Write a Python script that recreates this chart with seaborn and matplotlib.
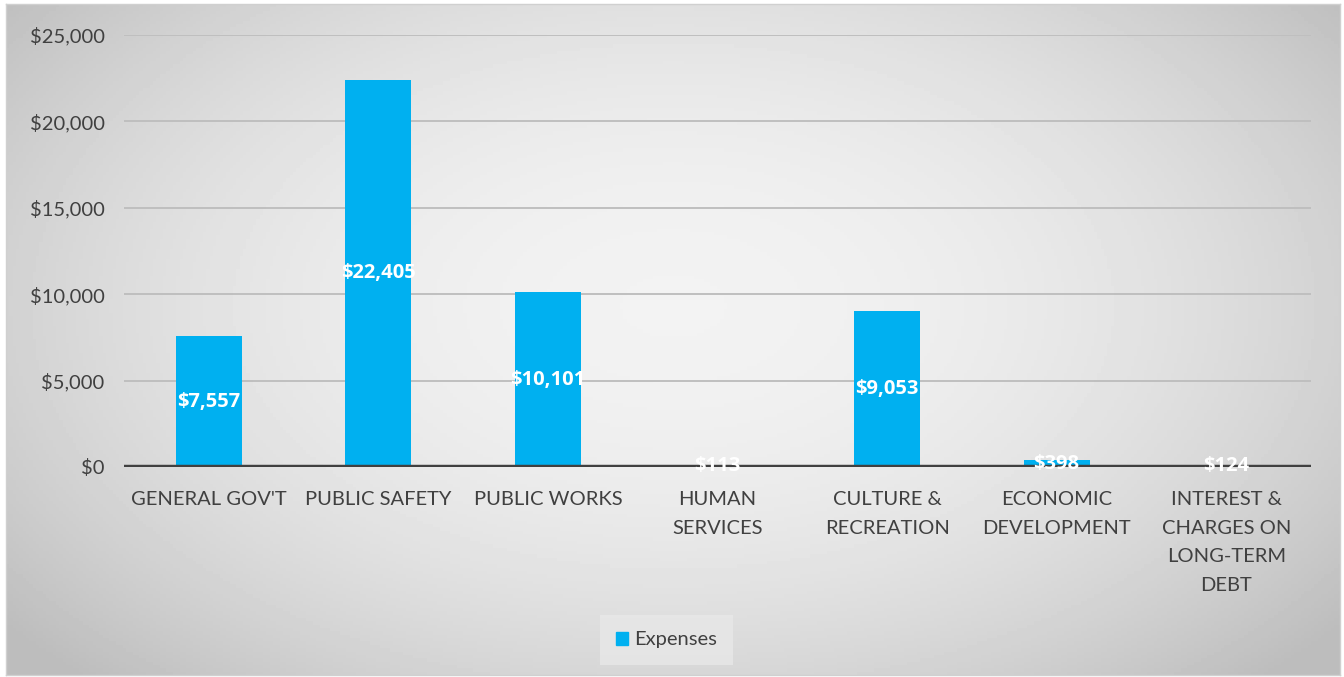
import numpy as np
import pandas as pd
import matplotlib
matplotlib.use("Agg")
import matplotlib.pyplot as plt
import seaborn as sns

categories = ["GENERAL GOV'T", "PUBLIC SAFETY", "PUBLIC WORKS", "HUMAN\nSERVICES",
              "CULTURE &\nRECREATION", "ECONOMIC\nDEVELOPMENT",
              "INTEREST &\nCHARGES ON\nLONG-TERM\nDEBT"]
expenses = [7557, 22405, 10101, 113, 9053, 398, 124]
series_name = "Expenses"
y_ticks = [0, 5000, 10000, 15000, 20000, 25000]

BAR_COLOR = "#00b0f0"
TEXT_COLOR = "#404040"

sns.set_theme(style="white")
plt.rcParams["font.family"] = ["Lato", "DejaVu Sans"]

df = pd.DataFrame({"category": categories, "value": expenses, "series": series_name})

fig = plt.figure(figsize=(13.44, 6.77), dpi=100)
fig.patch.set_facecolor("white")

# radial gray gradient behind the chart area
bg = fig.add_axes([0.0045, 0.003, 0.9926, 0.991], zorder=-10)
gx, gy = np.meshgrid(np.linspace(-1, 1, 400), np.linspace(-1, 1, 200))
r = np.sqrt((gx / 1.05) ** 2 + ((gy + 0.1) / 1.25) ** 2)
shade = np.clip(0.95 - 0.14 * r ** 2, 0.74, 0.95)
bg.imshow(shade, cmap="gray", vmin=0, vmax=1, aspect="auto", extent=[0, 1, 0, 1])
bg.set_xticks([])
bg.set_yticks([])
for sp in bg.spines.values():
    sp.set_color("#d0d0d0")
    sp.set_linewidth(1)

ax = fig.add_axes([124 / 1344, (677 - 467) / 677, 1187 / 1344, 432 / 677])
ax.patch.set_alpha(0)

sns.barplot(data=df, x="category", y="value", hue="series",
            palette={series_name: BAR_COLOR}, width=0.39, saturation=1,
            edgecolor="none", linewidth=0, ax=ax, zorder=2)

ax.set_ylim(0, 25000)
ax.set_xlim(-0.5, len(categories) - 0.5)
ax.set_yticks(y_ticks)
ax.set_yticklabels([f"${v:,.0f}" for v in y_ticks])
ax.yaxis.grid(True, color="#bfbfbf", linewidth=1.4, zorder=1)
ax.set_axisbelow(True)
ax.axhline(0, color="#404040", linewidth=3.2, zorder=3)
for sp in ax.spines.values():
    sp.set_visible(False)

ax.set_xlabel("")
ax.set_ylabel("")
ax.set_xticks(range(len(categories)))
ax.set_xticklabels(categories, linespacing=1.85, va="top")
ax.tick_params(axis="x", length=0, pad=17, labelsize=14.5, colors=TEXT_COLOR)
ax.tick_params(axis="y", length=0, pad=14, labelsize=14.5, colors=TEXT_COLOR)

for cont in ax.containers:
    labels = ax.bar_label(cont, labels=[f"${v:,.0f}" for v in expenses],
                          label_type="center", color="white",
                          fontsize=14.5, fontweight="bold",
                          family=["Open Sans", "DejaVu Sans"])
    for t in labels:
        t.set_zorder(5)

ax.get_legend().remove()
handles = [plt.Rectangle((0, 0), 1, 1, color=BAR_COLOR)]
leg = fig.legend(handles, [series_name], loc="center",
                 bbox_to_anchor=(0.496, 1 - 640 / 677), frameon=True,
                 fontsize=14.5, handlelength=0.6, handleheight=0.6,
                 handletextpad=0.3, borderpad=0.8, fancybox=False)
leg.get_frame().set_facecolor("#e8e8e8")
leg.get_frame().set_edgecolor("none")
for t in leg.get_texts():
    t.set_color(TEXT_COLOR)

fig.savefig("out.png", dpi=100)
